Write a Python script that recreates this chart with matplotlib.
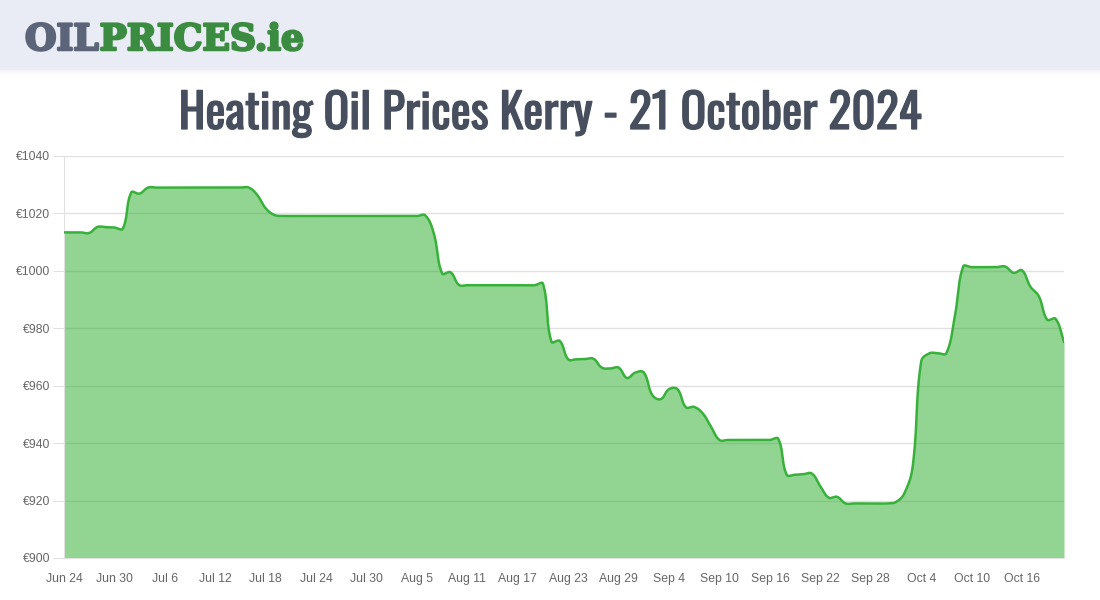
import numpy as np
import matplotlib
matplotlib.use('Agg')
import matplotlib.pyplot as plt
from matplotlib.patches import Rectangle
from matplotlib import font_manager as fm
import matplotlib.patheffects as pe

# daily prices, Jun 24 -> Oct 21 2024
prices = ([1013.4, 1013.4, 1013.4, 1013.2,
           1015.3, 1015.2, 1015.1, 1014.7, 1027.3, 1026.9]
          + [1029.0] * 13
          + [1026.4, 1021.8, 1019.5]
          + [1019.1] * 17
          + [1019.3, 1013.1, 999.1, 999.5, 995.1]
          + [995.0] * 9
          + [995.5, 975.3, 975.6, 969.2, 969.2, 969.3, 969.4, 966.3, 966.0, 966.3,
             962.7, 964.6, 964.6, 956.8, 955.3, 958.8, 958.8, 952.5, 952.6, 950.4,
             945.7, 941.1]
          + [941.1] * 6
          + [941.5, 929.0, 929.0, 929.2, 929.4, 925.0, 921.0, 921.3]
          + [919.0] * 6
          + [919.5, 922.5, 932.0, 968.4, 971.3, 971.3, 971.3, 984.0, 1001.5]
          + [1001.3] * 4
          + [1001.5, 999.3, 1000.2, 994.5, 991.2, 983.0, 983.3, 975.3])
days = np.arange(len(prices))

xtick_pos = list(range(0, 120, 6))
xtick_labels = ['Jun 24', 'Jun 30', 'Jul 6', 'Jul 12', 'Jul 18', 'Jul 24', 'Jul 30',
                'Aug 5', 'Aug 11', 'Aug 17', 'Aug 23', 'Aug 29', 'Sep 4', 'Sep 10',
                'Sep 16', 'Sep 22', 'Sep 28', 'Oct 4', 'Oct 10', 'Oct 16']
ytick_vals = [900, 920, 940, 960, 980, 1000, 1020, 1040]

title = 'Heating Oil Prices Kerry - 21 October 2024'


def smooth(xs, ys, sx, sy, t=0.4, steps=16):
    # chart.js style bezier spline (tension 0.4), distances in pixel space
    p = np.column_stack([np.asarray(xs, float) * sx, np.asarray(ys, float) * sy])
    n = len(p)
    cp_in = np.zeros_like(p)
    cp_out = np.zeros_like(p)
    for i in range(n):
        a = p[max(i - 1, 0)]
        b = p[i]
        c = p[min(i + 1, n - 1)]
        d01 = np.hypot(*(b - a))
        d12 = np.hypot(*(c - b))
        tot = d01 + d12
        s01 = d01 / tot if tot else 0
        s12 = d12 / tot if tot else 0
        cp_in[i] = b - t * s01 * (c - a)
        cp_out[i] = b + t * s12 * (c - a)
    u = np.linspace(0, 1, steps, endpoint=False)[:, None]
    out = []
    for i in range(n - 1):
        p0, p1, p2, p3 = p[i], cp_out[i], cp_in[i + 1], p[i + 1]
        seg = ((1 - u) ** 3) * p0 + 3 * ((1 - u) ** 2) * u * p1 + 3 * (1 - u) * u ** 2 * p2 + u ** 3 * p3
        out.append(seg)
    out.append(p[-1:])
    out = np.vstack(out)
    return out[:, 0] / sx, out[:, 1] / sy


def wnum(w):
    names = {'light': 300, 'normal': 400, 'regular': 400, 'medium': 500, 'semibold': 600,
             'demibold': 600, 'bold': 700, 'heavy': 800, 'black': 900}
    return w if isinstance(w, int) else names.get(str(w).lower(), 400)


# pick a narrow font for the title if one is installed
title_font = fm.FontProperties(family='DejaVu Sans', weight='bold')
title_weight = 700
fonts = fm.fontManager.ttflist
for cand in ['Oswald', 'Roboto Condensed', 'Liberation Sans Narrow', 'Open Sans Condensed']:
    hits = [f for f in fonts if f.name == cand]
    if hits:
        best = min(hits, key=lambda f: abs(wnum(f.weight) - 600))
        title_font = fm.FontProperties(fname=best.fname)
        title_weight = wnum(best.weight)
        break

fig = plt.figure(figsize=(11, 6), dpi=100)
fig.patch.set_facecolor('white')
r = fig.canvas.get_renderer()

# header band
for k in range(6):
    fig.patches.append(Rectangle((0, 1 - (70 + k) / 600), 1, 1 / 600, transform=fig.transFigure,
                                 color='#c8ccd6', alpha=0.25 * (1 - k / 6), lw=0))
fig.patches.append(Rectangle((0, 1 - 70 / 600), 1, 70 / 600, transform=fig.transFigure,
                             color='#e9ecf4', lw=0))

logo1 = fig.text(25 / 1100, 1 - 50 / 600, 'OIL', fontsize=26, fontweight='bold',
                 family='DejaVu Serif', color='#5b6479', va='baseline',
                 path_effects=[pe.withStroke(linewidth=1.8, foreground='#5b6479')])
bb = logo1.get_window_extent(r)
fig.text(bb.x1 / 1100 + 1 / 1100, 1 - 50 / 600, 'PRICES.ie', fontsize=26, fontweight='bold',
         family='DejaVu Serif', color='#3b8c40', va='baseline',
         path_effects=[pe.withStroke(linewidth=1.8, foreground='#3b8c40')])

stroke = 0 if title_weight >= 600 else 0.9
ttl = fig.text(0.5, 1 - 114 / 600, title, ha='center', va='center', fontsize=34,
               fontproperties=title_font, color='#474f5e',
               path_effects=[pe.withStroke(linewidth=stroke, foreground='#474f5e')])
ttl.set_fontsize(34)
w = ttl.get_window_extent(r).width + stroke
ttl.set_fontsize(min(34 * 744 / w, 38))

ax = fig.add_axes([64 / 1100, 42 / 600, 1000 / 1100, 402 / 600])
sx_px = 1000 / 119
sy_px = 402 / 140
xs, ys = smooth(days, prices, sx_px, sy_px)
ax.fill_between(xs, 900, ys, color=(38 / 255, 172 / 255, 38 / 255), alpha=0.5, lw=0, zorder=2)
ax.plot(xs, ys, color='#38b13a', lw=1.8, zorder=3)

ax.set_xlim(0, 119)
ax.set_ylim(900, 1040)
ax.set_yticks(ytick_vals)
ax.set_yticklabels(['€' + str(v) for v in ytick_vals])
ax.set_xticks(xtick_pos)
ax.set_xticklabels(xtick_labels)
ax.set_axisbelow(True)
ax.grid(axis='y', color='#e1e1e1', lw=1, zorder=0.5)
ax.grid(axis='x', visible=False)
ax.tick_params(axis='y', length=8, color='#e1e1e1', labelsize=8.8, labelcolor='#666666', pad=2)
ax.tick_params(axis='x', length=0, labelsize=8.8, labelcolor='#666666', pad=11)
for s in ['top', 'right']:
    ax.spines[s].set_visible(False)
ax.spines['left'].set_color('#e1e1e1')
ax.spines['bottom'].set_color('#e1e1e1')
for lbl in ax.get_xticklabels() + ax.get_yticklabels():
    lbl.set_family('Liberation Sans')

plt.savefig('out.png', dpi=100)
